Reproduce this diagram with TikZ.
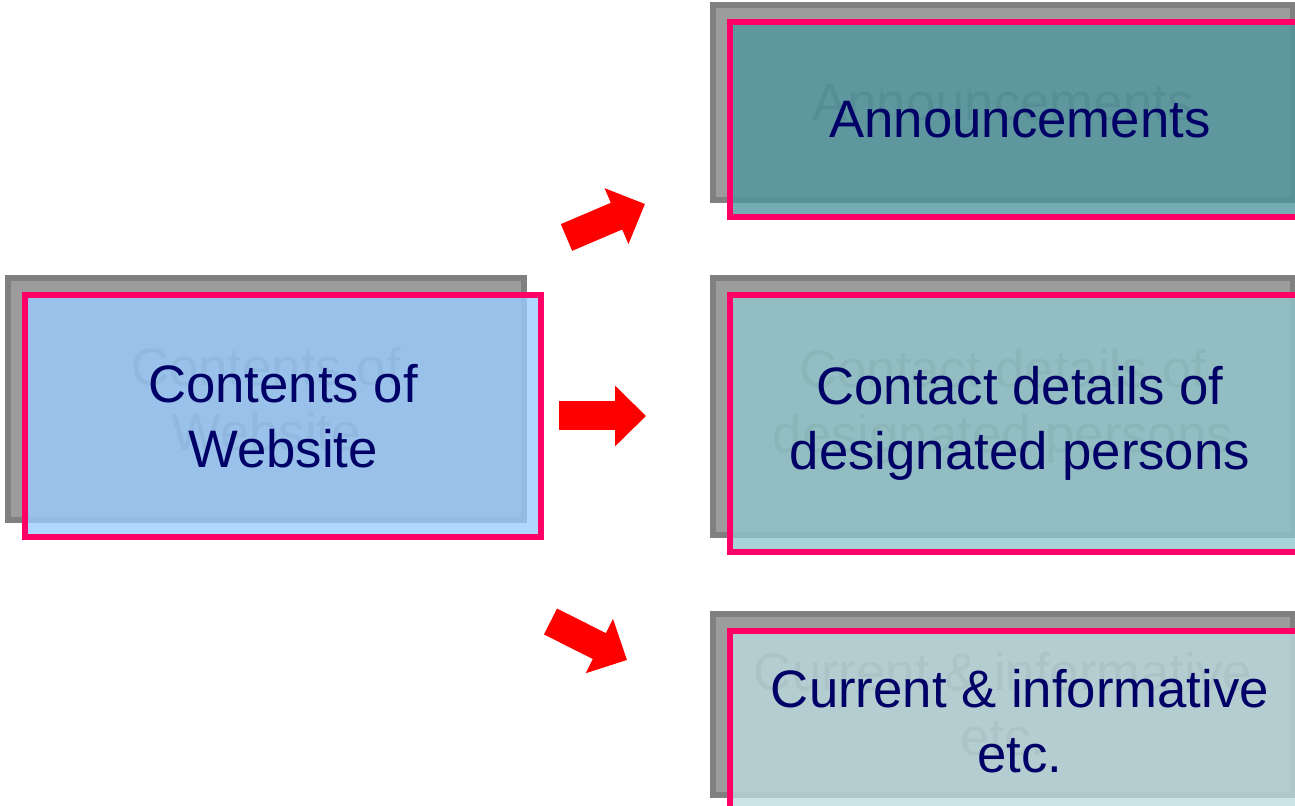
\documentclass[tikz,border=0pt]{standalone}
\usepackage{fontspec}
\setmainfont{Liberation Sans}
\usepackage{tikz}
\usetikzlibrary{positioning,arrows.meta}
\definecolor{navy}{RGB}{0,0,102}
\definecolor{pinkline}{RGB}{255,0,102}
\definecolor{shd_line}{RGB}{128,128,128}
\definecolor{shd_fill}{RGB}{156,156,156}
\definecolor{ghost}{RGB}{118,118,118}
\definecolor{fill_web}{RGB}{153,204,255}
\definecolor{fill_ann}{RGB}{77,150,158}
\definecolor{fill_con}{RGB}{144,199,205}
\definecolor{fill_cur}{RGB}{188,219,224}
\tikzset{
  box_t/.style = {rectangle, align=center, inner sep=0pt,
    font=\fontsize{30}{37}\selectfont},
  box_s/.style = {box_t, draw=shd_line, fill=shd_fill, line width=3pt,
    text=ghost},% shadow copy behind
  box_f/.style = {box_t, draw=pinkline, line width=3.2pt, fill opacity=0.78,
    text opacity=1, text=navy},% front box
  blk_arr/.style = {draw=red, line width=0.58cm,
    -{Triangle[length=0.62cm, width=1.18cm]}}
}

\begin{document}
\begin{tikzpicture}
\useasboundingbox (0,0) rectangle (25.9,16.12);
%
    \node (webS) [box_s, minimum width=10.32cm, minimum height=4.84cm]
        at (5.32, 8.14) {Contents of\\Website};
    \node (web) [box_f, fill=fill_web, minimum width=10.32cm, minimum height=4.84cm]
        at ([shift={(0.34,-0.34)}]webS.center) {Contents of\\Website};
%
    \node (annS) [box_s, minimum width=11.6cm, minimum height=3.9cm]
        at (20.06, 14.07) {Announcements};
    \node (ann) [box_f, fill=fill_ann, minimum width=11.6cm, minimum height=3.9cm]
        at ([shift={(0.34,-0.34)}]annS.center) {Announcements};
%
    \node (conS) [box_s, minimum width=11.6cm, minimum height=5.14cm]
        at (20.06, 7.99) {Contact details of\\designated persons};
    \node (con) [box_f, fill=fill_con, minimum width=11.6cm, minimum height=5.14cm]
        at ([shift={(0.34,-0.34)}]conS.center) {Contact details of\\designated persons};
%
    \node (curS) [box_s, minimum width=11.6cm, minimum height=3.62cm]
        at (20.06, 2.03) {Current \& informative\\etc.};
    \node (cur) [box_f, fill=fill_cur, minimum width=11.6cm, minimum height=3.62cm]
        at ([shift={(0.34,-0.34)}]curS.center) {Current \& informative\\etc.};
%
\coordinate (a_ann_t) at (11.33, 11.37);
\coordinate (a_ann_h) at (12.90, 12.04);
\coordinate (a_con_t) at (11.18, 7.80);
\coordinate (a_con_h) at (12.92, 7.80);
\coordinate (a_cur_t) at (11.01, 3.69);
\coordinate (a_cur_h) at (12.54, 2.92);
\draw[blk_arr] (a_ann_t) -- (a_ann_h);
\draw[blk_arr] (a_con_t) -- (a_con_h);
\draw[blk_arr] (a_cur_t) -- (a_cur_h);

\end{tikzpicture}
\end{document}
